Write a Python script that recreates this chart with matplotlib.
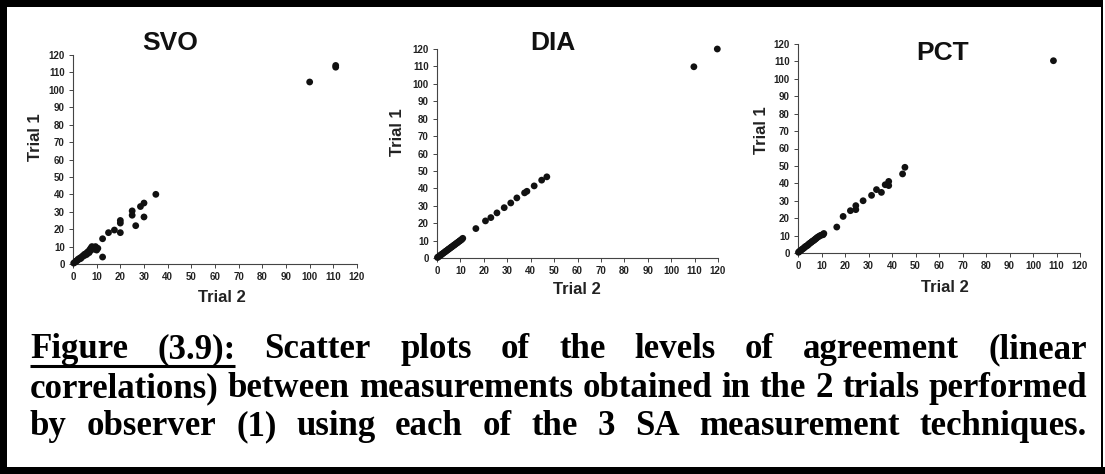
import matplotlib
matplotlib.use("Agg")
import matplotlib.pyplot as plt
from matplotlib.patches import Rectangle

# --- data: Trial 2 (x) vs Trial 1 (y) for each technique ---
svo_trial2 = [0.3, 0.8, 1.2, 1.5, 2.0, 2.2, 2.8, 3.0, 3.3, 3.8, 4.0, 4.5, 4.8, 5.0, 5.5,
              5.8, 6.0, 6.3, 6.8, 7.0, 7.2, 7.5, 8.0, 8.0, 8.5, 9.0, 9.5, 10.0, 10.5, 12.5,
              12.5, 15.0, 17.5, 20.0, 20.0, 20.0, 25.0, 25.0, 26.5, 28.5, 30.0, 30.0, 35.0,
              100.0, 111.0, 111.0]
svo_trial1 = [0.5, 1.0, 1.5, 1.8, 2.2, 2.8, 3.0, 3.5, 3.2, 4.0, 4.5, 4.8, 5.5, 5.0, 6.0,
              5.5, 6.5, 7.0, 6.5, 8.0, 7.5, 9.0, 8.5, 10.0, 9.5, 8.5, 10.0, 8.0, 9.0, 4.0,
              14.5, 18.0, 19.5, 18.0, 23.5, 25.0, 28.0, 30.5, 22.0, 33.0, 35.0, 27.0, 40.0,
              104.5, 113.0, 114.0]

dia_trial2 = [0.2, 0.5, 1.0, 1.3, 1.8, 2.1, 2.6, 3.0, 3.5, 3.8, 4.2, 4.7, 5.0, 5.4, 5.9,
              6.2, 6.6, 7.1, 7.4, 7.8, 8.3, 8.6, 9.0, 9.5, 9.8, 10.2, 10.6, 11.0,
              16.6, 20.7, 23.0, 25.6, 28.7, 31.5, 34.1, 37.4, 38.4, 41.5, 44.7, 46.9,
              109.7, 119.7]
dia_trial1 = [0.3, 0.6, 1.1, 1.4, 1.9, 2.2, 2.7, 3.1, 3.6, 3.9, 4.3, 4.8, 5.1, 5.5, 6.0,
              6.3, 6.7, 7.2, 7.5, 7.9, 8.4, 8.7, 9.1, 9.6, 9.9, 10.3, 10.7, 11.3,
              16.9, 21.3, 23.2, 25.9, 28.9, 31.6, 34.5, 37.4, 38.3, 41.4, 44.7, 46.6,
              109.8, 120.0]

pct_trial2 = [0.2, 0.6, 1.0, 1.5, 1.8, 2.3, 2.7, 3.0, 3.4, 3.9, 4.3, 4.6, 5.0, 5.5, 5.9,
              6.3, 6.8, 7.2, 7.6, 8.0, 8.5, 9.0, 9.6, 10.2, 10.7, 11.0,
              16.5, 19.2, 22.3, 24.6, 24.6, 27.7, 31.3, 33.4, 35.5, 37.1, 38.6, 38.6,
              44.5, 45.5, 108.7]
pct_trial1 = [0.4, 0.9, 1.3, 1.8, 2.2, 2.6, 3.1, 3.5, 3.9, 4.2, 4.7, 5.1, 5.6, 6.0, 6.5,
              6.9, 7.3, 7.8, 8.2, 8.7, 9.2, 9.6, 10.1, 10.4, 10.5, 11.2,
              14.9, 21.0, 24.3, 27.2, 24.9, 30.0, 33.1, 36.4, 34.8, 39.2, 41.1, 38.7,
              45.4, 49.2, 110.4]

panel_names = ["SVO", "DIA", "PCT"]
ticks = [0, 10, 20, 30, 40, 50, 60, 70, 80, 90, 100, 110, 120]

caption_lines = [
    ["Figure", "(3.9):", "Scatter", "plots", "of", "the", "levels", "of", "agreement", "(linear"],
    ["correlations)", "between", "measurements", "obtained", "in", "the", "2", "trials", "performed"],
    ["by", "observer", "(1)", "using", "each", "of", "the", "3", "SA", "measurement", "techniques."],
]

W, H = 1105, 474
fig = plt.figure(figsize=(W / 100, H / 100), dpi=100)
fig.patch.set_facecolor("white")

def px_box(left, top, right, bottom):
    return [left / W, 1 - bottom / H, (right - left) / W, (bottom - top) / H]

# axes boxes in pixels: (left, top, right, bottom)
boxes = [(73, 55, 357, 264), (437, 49, 718, 258), (798, 44, 1080, 253)]
titles_at = [(170, 43), (553, 43), (943, 53)]
ylabel_at = [(35, 137), (398, 132), (762, 130)]
xlabel_at = [(222, 297), (577, 289), (945, 287)]
series = [(svo_trial2, svo_trial1), (dia_trial2, dia_trial1), (pct_trial2, pct_trial1)]

arial = ["Liberation Sans", "DejaVu Sans"]

for i in range(3):
    ax = fig.add_axes(px_box(*boxes[i]))
    x, y = series[i]
    ax.scatter(x, y, s=24, color="#111111", edgecolors="none", clip_on=False, zorder=3)
    ax.set_xlim(0, 120)
    ax.set_ylim(0, 120)
    ax.set_xticks(ticks)
    ax.set_yticks(ticks)
    for s in ["top", "right"]:
        ax.spines[s].set_visible(False)
    for s in ["left", "bottom"]:
        ax.spines[s].set_color("#444444")
        ax.spines[s].set_linewidth(0.8)
    ax.tick_params(direction="out", length=3, width=0.7, color="#444444",
                   labelsize=7, labelcolor="#222222", pad=3)
    for lab in ax.get_xticklabels() + ax.get_yticklabels():
        lab.set_fontweight("bold")
        lab.set_family(arial)
    ax.patch.set_alpha(0)

    tx, ty = titles_at[i]
    fig.text(tx / W, 1 - ty / H, panel_names[i], ha="center", va="center",
             fontsize=19, fontweight="bold", family=arial, color="#111111")
    lx, ly = ylabel_at[i]
    fig.text(lx / W, 1 - ly / H, "Trial 1", ha="center", va="center", rotation=90,
             fontsize=12, fontweight="bold", family=arial, color="#222222")
    bx, by = xlabel_at[i]
    fig.text(bx / W, 1 - by / H, "Trial 2", ha="center", va="center",
             fontsize=12, fontweight="bold", family=arial, color="#222222")

# frame and caption drawn on a full-figure pixel axes
frame = fig.add_axes([0, 0, 1, 1], zorder=-1)
frame.set_xlim(0, W)
frame.set_ylim(H, 0)
frame.axis("off")
frame.add_patch(Rectangle((0, 0), 1103, 7, color="black", lw=0))
frame.add_patch(Rectangle((0, 0), 7, H, color="black", lw=0))
frame.add_patch(Rectangle((0, 467), W, 7, color="black", lw=0))
frame.add_patch(Rectangle((1101, 0), 2, H, color="black", lw=0))

overlay = fig.add_axes([0, 0, 1, 1], zorder=5)
overlay.set_xlim(0, W)
overlay.set_ylim(H, 0)
overlay.axis("off")

serif = ["Liberation Serif", "DejaVu Serif"]
renderer = fig.canvas.get_renderer()
left_edge, right_edge = 30, 1087
baselines = [358, 397, 435]

def text_width(s, size):
    t = overlay.text(0, 0, s, fontsize=size, fontweight="bold", family=serif)
    w = t.get_window_extent(renderer).width
    t.remove()
    return w

# size the caption so the second line fills the width with ordinary spacing
probe = 20.0
natural = text_width(" ".join(caption_lines[1]), probe)
cap_size = probe * (right_edge - left_edge) / natural

underline_end = None
for li, words in enumerate(caption_lines):
    widths = [text_width(w, cap_size) for w in words]
    gap = (right_edge - left_edge - sum(widths)) / (len(words) - 1)
    xpos = left_edge
    for wi, (w, ww) in enumerate(zip(words, widths)):
        overlay.text(xpos, baselines[li], w, fontsize=cap_size, fontweight="bold",
                     family=serif, ha="left", va="baseline", color="black")
        if li == 0 and wi == 1:
            underline_end = xpos + ww
        xpos += ww + gap

overlay.plot([left_edge, underline_end], [366, 366], color="black", lw=2.2,
             solid_capstyle="butt")

fig.savefig("out.png", dpi=100, facecolor="white")
